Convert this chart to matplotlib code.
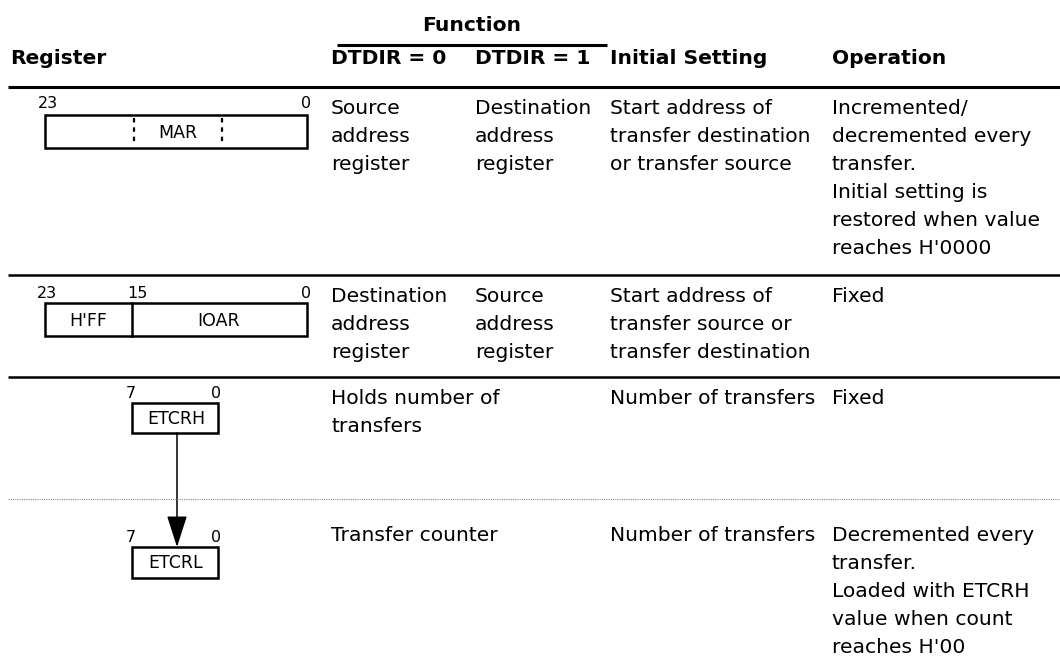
import matplotlib.pyplot as plt
from matplotlib.patches import Rectangle, FancyArrowPatch

# table text
function_label = "Function"
headers = ["Register", "DTDIR = 0", "DTDIR = 1", "Initial Setting", "Operation"]

dtdir0 = [["Source", "address", "register"],
          ["Destination", "address", "register"],
          ["Holds number of", "transfers"],
          ["Transfer counter"]]
dtdir1 = [["Destination", "address", "register"],
          ["Source", "address", "register"],
          [],
          []]
initial = [["Start address of", "transfer destination", "or transfer source"],
           ["Start address of", "transfer source or", "transfer destination"],
           ["Number of transfers"],
           ["Number of transfers"]]
operation = [["Incremented/", "decremented every", "transfer.", "Initial setting is",
              "restored when value", "reaches H'0000"],
             ["Fixed"],
             ["Fixed"],
             ["Decremented every", "transfer.", "Loaded with ETCRH",
              "value when count", "reaches H'00"]]

# register pictures: bit labels and field names
mar_bits = ["23", "0"]
mar_field = "MAR"
ioar_bits = ["23", "15", "0"]
ioar_fields = ["H'FF", "IOAR"]
etcrh_bits = ["7", "0"]
etcrh_field = "ETCRH"
etcrl_bits = ["7", "0"]
etcrl_field = "ETCRL"

plt.rcParams['font.family'] = 'DejaVu Sans'
W, H = 1060, 672
fig = plt.figure(figsize=(W / 100, H / 100), dpi=100)
ax = fig.add_axes([0, 0, 1, 1])
ax.set_xlim(0, W)
ax.set_ylim(H, 0)
ax.axis('off')

FS = 14.6
FS_BIT = 11.5
FS_BOX = 12.5
col_x = [10, 331, 475, 610, 832]
row_tops = [87, 275, 377, 499]
row_pad = [27, 27, 27, 42]
line_h = 28

# header
ax.text(472, 31, function_label, fontsize=FS, fontweight='bold', ha='center', va='baseline')
ax.plot([337, 607], [45, 45], color='black', lw=2.2, solid_capstyle='butt')
for x, h in zip(col_x, headers):
    ax.text(x, 64, h, fontsize=FS, fontweight='bold', ha='left', va='baseline')
ax.plot([8, W], [87, 87], color='black', lw=2.2, solid_capstyle='butt')
ax.plot([8, W], [275, 275], color='black', lw=1.8, solid_capstyle='butt')
ax.plot([8, W], [377, 377], color='black', lw=1.8, solid_capstyle='butt')
ax.plot([8, W], [499, 499], color='#888888', lw=0.8, ls=(0, (1, 1)))

# body text
cols = [dtdir0, dtdir1, initial, operation]
for r, top in enumerate(row_tops):
    base = top + row_pad[r]
    for c, col in enumerate(cols):
        for i, line in enumerate(col[r]):
            ax.text(col_x[c + 1], base + i * line_h, line, fontsize=FS,
                    ha='left', va='baseline')


def box(x0, x1, y0, y1):
    ax.add_patch(Rectangle((x0, y0), x1 - x0, y1 - y0, fill=False,
                           edgecolor='black', lw=1.8))


def box_label(xc, y0, y1, s):
    ax.text(xc, (y0 + y1) / 2 + 6, s, fontsize=FS_BOX, ha='center', va='baseline')


def bit(x, y, s):
    ax.text(x, y, s, fontsize=FS_BIT, ha='center', va='baseline')


# MAR
box(45, 307, 115, 148)
for xd in (134, 222):
    ax.plot([xd, xd], [118, 145], color='black', lw=1.6, ls=(0, (2, 2.2)))
box_label(178, 115, 148, mar_field)
bit(48, 108, mar_bits[0])
bit(306, 108, mar_bits[1])

# IOAR
box(45, 307, 303, 336)
ax.plot([132, 132], [303, 336], color='black', lw=1.8)
box_label(88, 303, 336, ioar_fields[0])
box_label(219, 303, 336, ioar_fields[1])
for x, s in zip((47, 137, 306), ioar_bits):
    bit(x, 298, s)

# ETCRH / ETCRL
box(132, 218, 403, 433)
box_label(176, 403, 433, etcrh_field)
bit(131, 398, etcrh_bits[0])
bit(216, 398, etcrh_bits[1])

box(132, 218, 547, 578)
box_label(176, 547, 578, etcrl_field)
bit(131, 542, etcrl_bits[0])
bit(216, 542, etcrl_bits[1])

ax.add_patch(FancyArrowPatch((177, 433), (177, 547), arrowstyle='-|>,head_length=1.4,head_width=0.45',
                             mutation_scale=14, color='black', lw=1.1, shrinkA=0, shrinkB=0))

fig.savefig('out.png', dpi=100)
